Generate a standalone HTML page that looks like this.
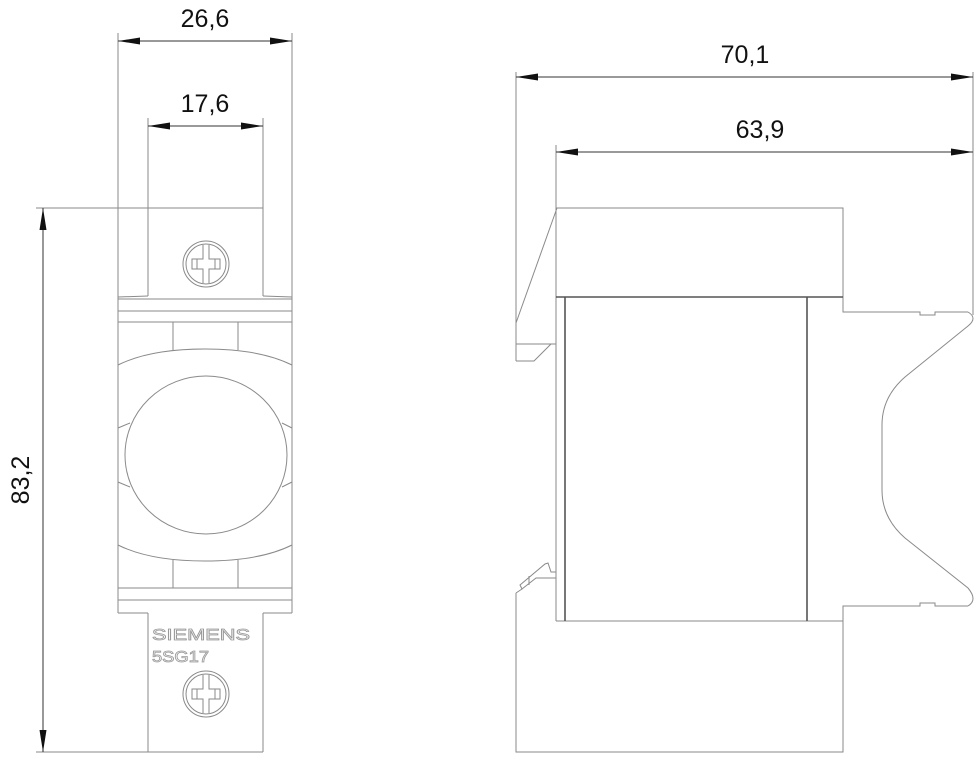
<!DOCTYPE html>
<html><head><meta charset="utf-8"><style>
html,body{margin:0;padding:0;background:#fff;}
svg{display:block;}
.l{stroke:#8a8a8a;stroke-width:1;fill:none;}
.d{stroke:#555;stroke-width:1.6;fill:none;}
.t{font-family:"Liberation Sans Narrow","Liberation Sans",sans-serif;font-size:25px;fill:#111;}
.a{fill:#111;stroke:none;}
.dl{stroke:#333;stroke-width:1;}
</style></head><body>
<svg width="978" height="760" viewBox="0 0 978 760" xmlns="http://www.w3.org/2000/svg">
<!-- LEFT VIEW -->
<line class="l" x1="118" y1="33" x2="118" y2="613"/>
<line class="l" x1="292" y1="33" x2="292" y2="613"/>
<line class="l" x1="148" y1="118" x2="148" y2="296"/>
<line class="l" x1="263" y1="118" x2="263" y2="296"/>
<line class="l" x1="36" y1="208" x2="263" y2="208"/>
<line class="l" x1="36" y1="752" x2="263" y2="752"/>
<polyline class="l" points="148,296 118,297"/>
<polyline class="l" points="263,296 292,297"/>
<line class="l" x1="118" y1="299" x2="292" y2="299"/>
<line class="l" x1="118" y1="311" x2="292" y2="311"/>
<line class="l" x1="118" y1="322" x2="292" y2="322"/>
<line class="l" x1="118" y1="588" x2="292" y2="588"/>
<line class="l" x1="118" y1="600" x2="292" y2="600"/>
<line class="l" x1="118" y1="613" x2="148" y2="613"/>
<line class="l" x1="263" y1="613" x2="292" y2="613"/>
<line class="l" x1="148" y1="613" x2="148" y2="752"/>
<line class="l" x1="263" y1="613" x2="263" y2="752"/>
<!-- inner verticals (outside arcs only) -->
<line class="l" x1="173" y1="322" x2="173" y2="350"/>
<line class="l" x1="238" y1="322" x2="238" y2="350"/>
<line class="l" x1="173" y1="560" x2="173" y2="588"/>
<line class="l" x1="238" y1="560" x2="238" y2="588"/>
<!-- arcs -->
<path class="l" d="M118,365 Q150,349 205,349 Q260,349 292,365"/>
<path class="l" d="M118,545 Q150,561 205,561 Q260,561 292,545"/>
<ellipse class="l" cx="206" cy="455" rx="81" ry="79"/>
<line class="l" x1="118" y1="428" x2="130" y2="423"/>
<line class="l" x1="292" y1="428" x2="282" y2="423"/>
<line class="l" x1="118" y1="482" x2="130" y2="487"/>
<line class="l" x1="292" y1="482" x2="282" y2="487"/>
<!-- screws -->
<g transform="translate(206,264)">
<circle class="l" r="23"/><circle class="l" r="20"/>
<path class="l" d="M-3,-19 V-5 H-14 V5 H-3 V19 M3,-19 V-5 H14 V5 H3 V19"/>
<path class="l" d="M-9,-5 V5 M9,-5 V5"/>
</g>
<g transform="translate(206,694)">
<circle class="l" r="23"/><circle class="l" r="20"/>
<path class="l" d="M-3,-19 V-5 H-14 V5 H-3 V19 M3,-19 V-5 H14 V5 H3 V19"/>
<path class="l" d="M-9,-5 V5 M9,-5 V5"/>
</g>
<text x="152" y="640" font-family="Liberation Sans,sans-serif" font-size="16" fill="#fff" stroke="#999" stroke-width="0.8" textLength="98" lengthAdjust="spacingAndGlyphs">SIEMENS</text>
<text x="152" y="662" font-family="Liberation Sans,sans-serif" font-size="16" fill="#fff" stroke="#999" stroke-width="0.8" textLength="57" lengthAdjust="spacingAndGlyphs">5SG17</text>
<!-- dims left -->
<line class="dl" x1="118" y1="41" x2="292" y2="41"/>
<polygon class="a" points="118,41 140,37.5 140,44.5"/>
<polygon class="a" points="292,41 270,37.5 270,44.5"/>
<text class="t" x="205" y="27" text-anchor="middle">26,6</text>
<line class="dl" x1="148" y1="126" x2="263" y2="126"/>
<polygon class="a" points="148,126 170,122.5 170,129.5"/>
<polygon class="a" points="263,126 241,122.5 241,129.5"/>
<text class="t" x="205" y="112" text-anchor="middle">17,6</text>
<line class="dl" x1="43" y1="208" x2="43" y2="752"/>
<polygon class="a" points="43,208 39.5,230 46.5,230"/>
<polygon class="a" points="43,752 39.5,730 46.5,730"/>
<text class="t" transform="translate(29,480) rotate(-90)" text-anchor="middle">83,2</text>

<!-- RIGHT VIEW -->
<line class="l" x1="516" y1="72" x2="516" y2="361"/>
<line class="l" x1="973" y1="72" x2="973" y2="315"/>
<line class="l" x1="556" y1="145" x2="556" y2="621"/>
<line class="l" x1="516" y1="323" x2="557" y2="208"/>
<polyline class="l" points="556,208 843,208 843,312 920,312 920,315 935,315 935,312 968,312"/>
<path class="l" d="M968,312 Q978,318 968,326 L905,377 Q882,397 882,425 L882,490 Q882,518 905,538 L968,588 Q978,600 968,606"/>
<polyline class="l" points="968,606 935,606 935,603 920,603 920,606 843,606 843,752 516,752 516,593"/>
<line class="d" x1="556" y1="297" x2="843" y2="297"/>
<line class="l" x1="556" y1="621" x2="843" y2="621"/>
<line class="d" x1="565" y1="297" x2="565" y2="621"/>
<line class="d" x1="807" y1="297" x2="807" y2="621"/>
<polyline class="l" points="516,344 556,344"/>
<polyline class="l" points="516,361 534,361 551,344"/>
<polyline class="l" points="516,593 522,589 520,585 545,564 548,563 551,572 556,572"/>
<polyline class="l" points="556,578 536,578 522,589"/>
<line class="l" x1="529" y1="576" x2="529" y2="585"/>
<!-- dims right -->
<line class="dl" x1="516" y1="77" x2="973" y2="77"/>
<polygon class="a" points="516,77 538,73.5 538,80.5"/>
<polygon class="a" points="973,77 951,73.5 951,80.5"/>
<text class="t" x="745" y="63" text-anchor="middle">70,1</text>
<line class="dl" x1="556" y1="152" x2="973" y2="152"/>
<polygon class="a" points="556,152 578,148.5 578,155.5"/>
<polygon class="a" points="973,152 951,148.5 951,155.5"/>
<text class="t" x="760" y="138" text-anchor="middle">63,9</text>
</svg>
</body></html>
